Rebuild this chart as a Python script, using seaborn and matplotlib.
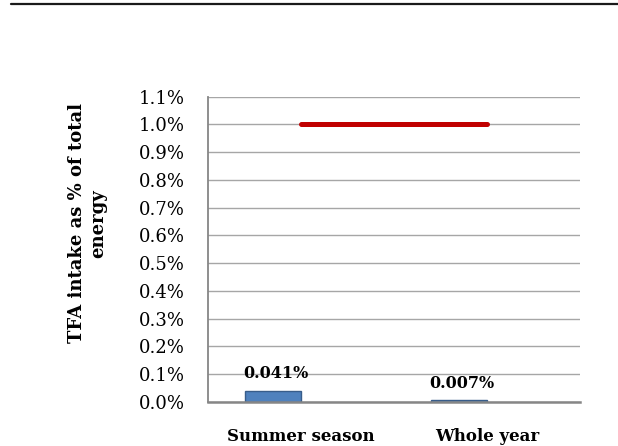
import matplotlib
matplotlib.use("Agg")
import matplotlib.pyplot as plt
from matplotlib.lines import Line2D
from matplotlib.ticker import FuncFormatter, MultipleLocator
import seaborn as sns
import pandas as pd
import numpy as np

categories = ["Summer season", "Whole year"]
tfa_intake = [0.041, 0.007]          # % of total energy
limit_values = [1.0, 1.0]            # recommended max, % of total energy
bar_labels = ["0.041%", "0.007%"]

sns.set_theme(style="white")
plt.rcParams["font.family"] = ["DejaVu Serif"]
plt.rcParams["text.color"] = "black"
plt.rcParams["axes.labelcolor"] = "black"
plt.rcParams["xtick.color"] = "black"
plt.rcParams["ytick.color"] = "black"

fig = plt.figure(figsize=(6.18, 4.46), dpi=100)
ax = fig.add_axes([208 / 618, 44 / 446, 372 / 618, 305.5 / 446])

df = pd.DataFrame({
    "category": categories * 2,
    "series": ["TFA"] * 2 + ["Limit"] * 2,
    "value": tfa_intake + [np.nan, np.nan],
})

sns.barplot(data=df, x="category", y="value", hue="series", order=categories,
            hue_order=["TFA", "Limit"], palette={"TFA": "#4f81bd", "Limit": "#4f81bd"},
            width=0.6, dodge=True, edgecolor="#385d8a", linewidth=1.0,
            saturation=1, legend=False, errorbar=None, ax=ax)

line_df = pd.DataFrame({"x": [0, 1], "y": limit_values})
sns.lineplot(data=line_df, x="x", y="y", color="#c00000", linewidth=3.6, ax=ax,
             zorder=4)

ax.set_xlim(-0.5, 1.5)
ax.set_ylim(0, 1.1)
ax.yaxis.set_major_locator(MultipleLocator(0.1))
ax.yaxis.set_major_formatter(FuncFormatter(lambda v, p: f"{v:.1f}%"))
ax.set_xticks(range(len(categories)))
ax.set_xticklabels(categories, fontweight="bold", fontsize=12)
ax.tick_params(axis="x", length=0, pad=19, colors="black")
ax.tick_params(axis="y", length=0, pad=17, labelsize=13, colors="black")

ax.grid(axis="y", color="#a6a6a6", linewidth=1.0)
ax.set_axisbelow(True)
for s in ["top", "right"]:
    ax.spines[s].set_visible(False)
ax.spines["left"].set_color("#868686")
ax.spines["left"].set_linewidth(1.3)
ax.spines["bottom"].set_color("#868686")
ax.spines["bottom"].set_linewidth(1.8)

ax.set_xlabel("")
ax.set_ylabel("TFA intake as % of total\nenergy", fontweight="bold", fontsize=13,
              linespacing=1.2, color="black")
ax.yaxis.set_label_coords(-0.272, 0.585)

# value labels above bars
bars = [p for p in ax.patches if np.isfinite(p.get_height()) and p.get_height() > 0]
bars.sort(key=lambda p: p.get_x())
for p, txt in zip(bars, bar_labels):
    ax.annotate(txt, (p.get_x() + p.get_width() / 2, p.get_height()),
                xytext=(2, 6), textcoords="offset points", ha="center",
                va="bottom", fontweight="bold", fontsize=11.5, color="black")

fig.add_artist(Line2D([11 / 618, 1.0], [1 - 4 / 446, 1 - 4 / 446],
                      transform=fig.transFigure, color="#1a1a1a", linewidth=1.6))

fig.savefig("out.png", dpi=100)
